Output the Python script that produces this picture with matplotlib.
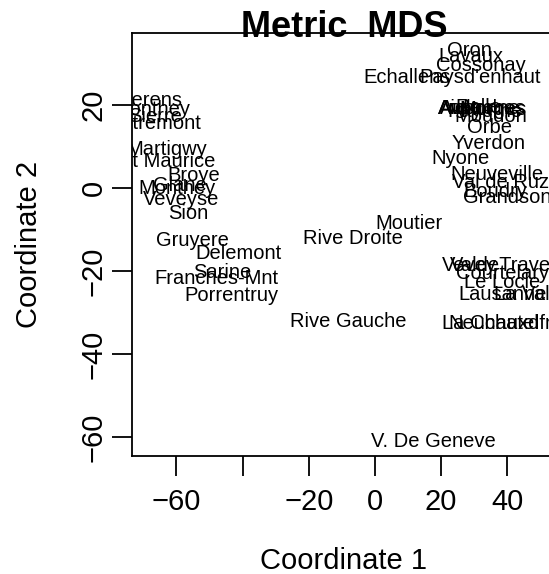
import matplotlib.pyplot as plt

plt.rcParams['font.family'] = ['Liberation Sans', 'DejaVu Sans']

# district names and their metric MDS coordinates
names = ['Courtelary', 'Delemont', 'Franches-Mnt', 'Moutier', 'Neuveville', 'Porrentruy',
         'Broye', 'Glane', 'Gruyere', 'Sarine', 'Veveyse', 'Aigle', 'Aubonne', 'Avenches',
         'Cossonay', 'Echallens', 'Grandson', 'Lausanne', 'La Vallee', 'Lavaux', 'Morges',
         'Moudon', 'Nyone', 'Orbe', 'Oron', 'Payerne', "Paysd'enhaut", 'Rolle', 'Vevey',
         'Yverdon', 'Conthey', 'Entremont', 'Herens', 'Martigwy', 'Monthey', 'St Maurice',
         'Sierre', 'Sion', 'Boudry', 'La Chauxdfnd', 'Le Locle', 'Neuchatel', 'Val de Ruz',
         'ValdeTravers', 'V. De Geneve', 'Rive Droite', 'Rive Gauche']
coord1 = [38.7, -41.2, -48.0, 10.4, 37.0, -43.5,
          -54.8, -58.9, -55.1, -46.1, -58.6, 25.9, 31.7, 32.3,
          32.0, 9.7, 40.0, 38.5, 48.5, 29.1, 35.6,
          35.0, 25.7, 34.7, 28.6, 33.2, 31.8, 31.1, 28.6,
          34.3, -67.3, -66.5, -68.1, -63.0, -59.7, -62.7,
          -66.5, -56.5, 36.3, 39.3, 38.5, 36.0, 38.1,
          40.6, 17.6, -6.5, -8.2]
coord2 = [-20.6, -15.9, -21.9, -8.7, 3.1, -26.0,
          2.9, 0.5, -12.8, -20.5, -2.7, 19.0, 19.2, 19.0,
          29.4, 26.7, -2.4, -25.8, -25.6, 31.6, 18.8,
          17.1, 7.0, 14.5, 33.2, 18.4, 26.7, 19.3, -18.8,
          10.6, 18.8, 15.4, 21.0, 9.2, -0.2, 6.3,
          17.1, -6.1, -1.0, -32.8, -22.9, -32.8, 1.2,
          -18.8, -61.0, -12.1, -32.3]

W, H = 549, 574
fig = plt.figure(figsize=(W / 100, H / 100), dpi=100)
# plot region runs a little past the right edge of the picture
ax = fig.add_axes([132 / W, (H - 456) / H, (556 - 132) / W, (456 - 33) / H])
ax.set_xlim(-73.4, 54.7)
ax.set_ylim(-64.6, 37.3)

for name, x, y in zip(names, coord1, coord2):
    ax.text(x, y, name, ha='center', va='center', fontsize=14.5, clip_on=True)

for s in ax.spines.values():
    s.set_linewidth(1.3)

ax.set_xticks([-60, -40, -20, 0, 20, 40])
ax.set_xticklabels(['\u221260', '', '\u221220', '0', '20', '40'])
ax.set_yticks([-60, -40, -20, 0, 20])
ax.set_yticklabels(['\u221260', '\u221240', '\u221220', '0', '20'], rotation=90, va='center')
ax.tick_params(direction='out', length=14.4, width=1.3, labelsize=21)
ax.tick_params(axis='x', pad=9)
ax.tick_params(axis='y', pad=3)

fig.text(344 / W, 1 - 37 / H, 'Metric  MDS', ha='center', va='baseline',
         fontsize=26, fontweight='bold')
fig.text(344 / W, 1 - 561 / H, 'Coordinate 1', ha='center', va='center', fontsize=21)
fig.text(29 / W, 1 - 244.5 / H, 'Coordinate 2', ha='center', va='center',
         rotation=90, fontsize=21)

fig.savefig('out.png', dpi=100)
